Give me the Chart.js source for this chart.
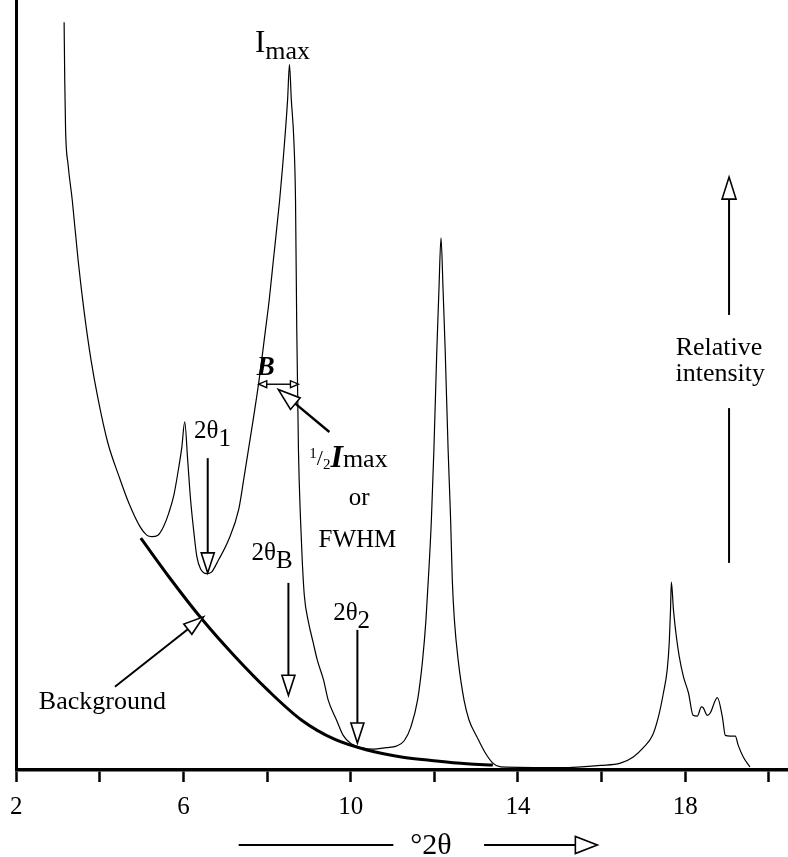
<!DOCTYPE html>
<html lang="en">
<head>
<meta charset="UTF-8">
<title>XRD peak width</title>
<style>
  html, body { margin: 0; padding: 0; background: #fff; }
  #wrap { width: 788px; height: 857px; }
</style>
</head>
<body>
<div id="wrap"><canvas id="xrd"></canvas></div>

<script src="https://cdn.jsdelivr.net/npm/chart.js"></script>
<script>
// diffraction pattern: x in °2θ, y as relative intensity (0-100)
const patternX = [3.145, 3.16, 3.18, 3.24, 3.34, 3.48, 3.62, 3.79, 3.96, 4.19, 4.46, 4.69, 4.96, 5.12, 5.24,
  5.39, 5.53, 5.65, 5.77, 5.89, 5.96, 6.03, 6.10, 6.17, 6.25, 6.32, 6.41, 6.56, 6.67, 6.84, 7.08, 7.32, 7.44,
  7.63, 7.80, 7.96, 8.05, 8.15, 8.30, 8.37, 8.49, 8.535, 8.58, 8.64, 8.68, 8.71, 8.75, 8.80, 8.84, 8.89, 8.99,
  9.10, 9.20, 9.35, 9.46, 9.66, 9.82, 10.01, 10.25, 10.54, 10.85, 11.09, 11.28, 11.44, 11.60, 11.72, 11.80,
  11.87, 11.93, 11.99, 12.06, 12.11, 12.16, 12.21, 12.26, 12.33, 12.39, 12.43, 12.48, 12.57, 12.71, 12.83,
  13.02, 13.21, 13.40, 13.59, 15.02, 15.98, 16.45, 16.76, 17.00, 17.22, 17.36, 17.48, 17.57, 17.62, 17.65,
  17.67, 17.72, 17.79, 17.86, 17.96, 18.08, 18.19, 18.29, 18.39, 18.43, 18.53, 18.60, 18.77, 18.89, 18.96,
  19.08, 19.20, 19.27, 19.39, 19.55];
const patternY = [97.1, 89.6, 83.1, 78.6, 74.0, 66.2, 59.7, 53.2, 48.1, 42.5, 38.1, 34.7, 31.6, 30.5, 30.3,
  30.5, 31.7, 33.4, 35.7, 39.4, 41.9, 45.2, 40.3, 35.1, 30.8, 27.7, 26.1, 25.5, 25.7, 27.3, 29.9, 33.8, 37.7,
  44.2, 50.3, 57.1, 61.0, 66.2, 74.0, 78.3, 87.0, 91.6, 87.0, 81.8, 74.0, 57.1, 41.6, 32.5, 27.3, 22.7, 19.2,
  16.6, 14.3, 11.7, 9.1, 6.5, 4.5, 3.4, 2.9, 2.7, 2.9, 3.1, 3.8, 5.6, 9.1, 14.3, 19.5,
  26.0, 32.5, 41.6, 54.5, 62.3, 69.1, 62.3, 54.5, 41.6, 32.5, 24.7, 19.5, 14.3, 9.1, 6.5,
  4.3, 2.3, 0.9, 0.4, 0.3, 0.6, 0.9, 1.7, 2.9, 4.5, 6.9, 10.0, 13.0, 16.6, 20.8,
  24.4, 20.8, 17.3, 14.7, 12.1, 10.0, 7.1, 7.0, 8.2, 8.1, 7.1, 7.4, 9.4, 6.9, 4.5,
  4.4, 4.4, 3.2, 1.7, 0.4];

// fitted background under the first peaks
const bgX = [4.98, 5.65, 6.44, 7.22, 8.03, 8.82, 9.61, 10.39, 11.21, 11.99, 12.78, 13.40];
const bgY = [30.1, 25.1, 19.6, 14.8, 10.3, 6.5, 4.0, 2.6, 1.7, 1.2, 0.8, 0.65];

const xMin = 2, xMax = 20.46, xStep = 2;
const xLabelled = [2, 6, 10, 14, 18];

// annotation arrows, [x0, y0, x1, y1] in data units, tip at the end
const downArrows = [
  [6.58, 40.5, 6.58, 25.6],   // 2θ1
  [8.51, 24.3, 8.51, 9.7],    // 2θB
  [10.16, 18.2, 10.16, 3.5]   // 2θ2
];
const bgArrow = [4.36, 10.8, 6.48, 19.9];
const halfMaxArrow = [9.49, 43.9, 8.27, 49.4];
const widthArrow = [7.80, 8.75, 50.1];
const intensityArrow = [19.05, 26.9, 47.0, 59.1, 77.0];

// text: x, y (baseline), align, runs [text, size, dy, style]
const notes = [
  [8.37, 93.2, 'center', [['I', 31, 0, ''], ['max', 26, 7, '']]],
  [6.25, 43.1, 'left', [['2θ', 25, 0, ''], ['1', 25, 8, '']]],
  [7.63, 27.3, 'left', [['2θ', 25, 0, ''], ['B', 25, 8, '']]],
  [9.58, 19.5, 'left', [['2θ', 25, 0, ''], ['2', 25, 8, '']]],
  [7.97, 51.3, 'center', [['B', 27, 0, 'italic bold']]],
  [9.01, 39.4, 'left', [['1', 15, -9, ''], ['/', 22, -2, ''], ['2', 15, 2, ''], ['I', 32, 0, 'italic bold'], ['max', 26, 0, '']]],
  [10.20, 34.4, 'center', [['or', 25, 0, '']]],
  [10.16, 29.0, 'center', [['FWHM', 25, 0, '']]],
  [4.06, 7.9, 'center', [['Background', 26, 0, '']]],
  [18.81, 53.9, 'center', [['Relative', 26, 0, '']]],
  [18.84, 50.5, 'center', [['intensity', 26, 0, '']]]
];

const serif = '"Liberation Serif", "Times New Roman", serif';

function head(ctx, x0, y0, x1, y1, len, half) {
  const a = Math.atan2(y1 - y0, x1 - x0);
  const bx = x1 - len * Math.cos(a), by = y1 - len * Math.sin(a);
  const nx = -Math.sin(a) * half, ny = Math.cos(a) * half;
  ctx.beginPath();
  ctx.moveTo(x1, y1);
  ctx.lineTo(bx + nx, by + ny);
  ctx.lineTo(bx - nx, by - ny);
  ctx.closePath();
  ctx.fillStyle = '#fff';
  ctx.fill();
  ctx.stroke();
  return [bx, by];
}

function arrow(ctx, x0, y0, x1, y1, len, half, w) {
  const a = Math.atan2(y1 - y0, x1 - x0);
  ctx.lineWidth = w;
  ctx.beginPath();
  ctx.moveTo(x0, y0);
  ctx.lineTo(x1 - len * Math.cos(a), y1 - len * Math.sin(a));
  ctx.stroke();
  ctx.lineWidth = 1.6;
  head(ctx, x0, y0, x1, y1, len, half);
}

function runs(ctx, list, x, y, align) {
  const fonts = list.map(r => (r[3] ? r[3] + ' ' : '') + r[1] + 'px ' + serif);
  let total = 0;
  const widths = list.map((r, i) => { ctx.font = fonts[i]; const w = ctx.measureText(r[0]).width; total += w; return w; });
  let cx = align === 'center' ? x - total / 2 : x;
  ctx.textAlign = 'left';
  ctx.textBaseline = 'alphabetic';
  list.forEach((r, i) => {
    ctx.font = fonts[i];
    ctx.fillText(r[0], cx, y + r[2]);
    cx += widths[i];
  });
}

const annotate = {
  id: 'annotate',
  afterDraw(chart) {
    const ctx = chart.ctx, sx = chart.scales.x, sy = chart.scales.y;
    const px = v => sx.getPixelForValue(v), py = v => sy.getPixelForValue(v);
    ctx.save();
    ctx.strokeStyle = '#000';
    ctx.fillStyle = '#000';
    ctx.lineJoin = 'miter';

    downArrows.forEach(a => arrow(ctx, px(a[0]), py(a[1]), px(a[2]), py(a[3]), 20, 6.5, 2));
    arrow(ctx, px(bgArrow[0]), py(bgArrow[1]), px(bgArrow[2]), py(bgArrow[3]), 20, 6.5, 2);
    arrow(ctx, px(halfMaxArrow[0]), py(halfMaxArrow[1]), px(halfMaxArrow[2]), py(halfMaxArrow[3]), 22, 7.5, 2.4);

    // B: peak width at half maximum
    const wy = py(widthArrow[2]), wl = px(widthArrow[0]), wr = px(widthArrow[1]);
    ctx.lineWidth = 1.4;
    ctx.beginPath();
    ctx.moveTo(wl + 8, wy);
    ctx.lineTo(wr - 8, wy);
    ctx.stroke();
    head(ctx, wr, wy, wl, wy, 8, 3.5);
    head(ctx, wl, wy, wr, wy, 8, 3.5);

    // relative intensity direction
    const ix = px(intensityArrow[0]);
    ctx.lineWidth = 2;
    ctx.beginPath();
    ctx.moveTo(ix, py(intensityArrow[1]));
    ctx.lineTo(ix, py(intensityArrow[2]));
    ctx.stroke();
    arrow(ctx, ix, py(intensityArrow[3]), ix, py(intensityArrow[4]), 22, 7, 2);

    notes.forEach(n => { ctx.fillStyle = '#000'; runs(ctx, n[3], px(n[0]), py(n[1]), n[2]); });

    // axis title with direction arrow
    const ty = chart.chartArea.bottom + 75;
    ctx.lineWidth = 1.8;
    ctx.beginPath();
    ctx.moveTo(px(7.32), ty);
    ctx.lineTo(px(11.02), ty);
    ctx.stroke();
    arrow(ctx, px(13.19), ty, px(15.90), ty, 22, 8.5, 1.8);
    ctx.fillStyle = '#000';
    ctx.font = '30px ' + serif;
    ctx.textAlign = 'center';
    ctx.textBaseline = 'alphabetic';
    ctx.fillText('°2θ', px(11.92), ty + 9);
    ctx.restore();
  }
};

const toPoints = (xs, ys) => xs.map((x, i) => ({ x: x, y: ys[i] }));

new Chart(document.getElementById('xrd'), {
  type: 'line',
  data: {
    datasets: [
      {
        data: toPoints(patternX, patternY),
        borderColor: '#000',
        borderWidth: 1.2,
        pointRadius: 0,
        cubicInterpolationMode: 'monotone'
      },
      {
        data: toPoints(bgX, bgY),
        borderColor: '#000',
        borderWidth: 3,
        pointRadius: 0,
        cubicInterpolationMode: 'monotone'
      }
    ]
  },
  options: {
    responsive: true,
    maintainAspectRatio: false,
    animation: false,
    layout: { padding: 0 },
    plugins: { legend: { display: false }, tooltip: { enabled: false } },
    scales: {
      x: {
        type: 'linear',
        min: xMin,
        max: xMax,
        afterFit: s => { s.height = 87; },
        border: { display: true, color: '#000', width: 3.5 },
        grid: { display: true, drawOnChartArea: false, drawTicks: true, tickLength: 12, tickWidth: 2.5, tickColor: '#000' },
        ticks: {
          stepSize: xStep,
          includeBounds: false,
          autoSkip: false,
          maxRotation: 0,
          padding: 10,
          color: '#000',
          font: { family: serif, size: 25 },
          callback: v => xLabelled.includes(v) ? String(v) : ''
        }
      },
      y: {
        min: 0,
        max: 100,
        afterFit: s => { s.width = 14; },
        border: { display: true, color: '#000', width: 3 },
        grid: { display: false },
        ticks: { display: false }
      }
    }
  },
  plugins: [annotate]
});
</script>
</body>
</html>
